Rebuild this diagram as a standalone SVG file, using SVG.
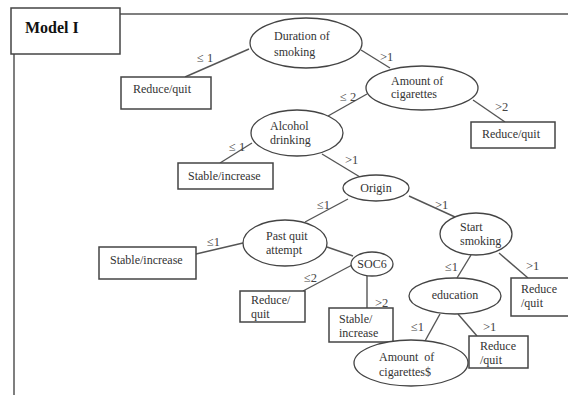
<svg xmlns="http://www.w3.org/2000/svg" width="568" height="395" viewBox="0 0 568 395">
<style>
.frame{fill:none;stroke:#555;stroke-width:1.5}
.box{fill:#fff;stroke:#444;stroke-width:1.5}
.ell{fill:#fff;stroke:#444;stroke-width:1.3}
.edge{stroke:#555;stroke-width:1.4;fill:none}
text{font-family:"Liberation Serif","Times New Roman",serif;font-size:12px;fill:#333}
.lbl{font-size:12.5px;fill:#444}
.mid{text-anchor:middle}
.title{font-size:16px;font-weight:bold;fill:#111}
</style>
<rect width="568" height="395" fill="#fff"/>
<g id="frame">
<path class="frame" d="M120 14 H570 M14 54 V396"/>
<rect class="box" x="11" y="8" width="109" height="46"/>
<text class="title" x="25" y="33">Model I</text>
</g>
<g id="connectors">
<line class="edge" x1="249" y1="49" x2="185" y2="77"/>
<line class="edge" x1="361" y1="50" x2="390" y2="68"/>
<line class="edge" x1="473" y1="100" x2="505" y2="122"/>
<line class="edge" x1="367" y1="94" x2="328" y2="116"/>
<line class="edge" x1="252" y1="143" x2="220" y2="163"/>
<line class="edge" x1="322" y1="154" x2="360" y2="177"/>
<line class="edge" x1="348" y1="199" x2="305" y2="222"/>
<line class="edge" x1="243" y1="243" x2="196" y2="254"/>
<line class="edge" x1="327" y1="247" x2="353" y2="256"/>
<line class="edge" x1="352" y1="265" x2="303" y2="291"/>
<line class="edge" x1="367" y1="276" x2="367" y2="308"/>
<line class="edge" x1="409" y1="196" x2="455" y2="217"/>
<line class="edge" x1="471" y1="255" x2="457" y2="278"/>
<line class="edge" x1="499" y1="253" x2="528" y2="278"/>
<line class="edge" x1="440" y1="314" x2="425" y2="341"/>
<line class="edge" x1="458" y1="314" x2="477" y2="336"/>
<text class="lbl" x="197" y="62">≤ 1</text>
<text class="lbl" x="380" y="61">&gt;1</text>
<text class="lbl" x="340" y="101">≤ 2</text>
<text class="lbl" x="495" y="111">&gt;2</text>
<text class="lbl" x="229" y="151">≤ 1</text>
<text class="lbl" x="345" y="164">&gt;1</text>
<text class="lbl" x="317" y="209">≤1</text>
<text class="lbl" x="207" y="246">≤1</text>
<text class="lbl" x="304" y="282">≤2</text>
<text class="lbl" x="375" y="307">&gt;2</text>
<text class="lbl" x="435" y="209">&gt;1</text>
<text class="lbl" x="445" y="271">≤1</text>
<text class="lbl" x="526" y="270">&gt;1</text>
<text class="lbl" x="411" y="331">≤1</text>
<text class="lbl" x="483" y="331">&gt;1</text>
</g>
<g id="duration">
<ellipse class="ell" cx="306" cy="43" rx="56" ry="25"/>
<text x="274" y="40">Duration of</text>
<text x="274" y="56">smoking</text>
</g>
<g id="reduce1">
<rect class="box" x="121" y="77" width="90" height="32"/>
<text x="133" y="93">Reduce/quit</text>
</g>
<g id="amount1">
<ellipse class="ell" cx="422" cy="88" rx="56" ry="22"/>
<text x="391" y="85">Amount of</text>
<text x="391" y="98">cigarettes</text>
</g>
<g id="reduce2">
<rect class="box" x="471" y="122" width="84" height="26"/>
<text x="482" y="138">Reduce/quit</text>
</g>
<g id="alcohol">
<ellipse class="ell" cx="297" cy="133" rx="46" ry="23"/>
<text x="270" y="130">Alcohol</text>
<text x="270" y="144">drinking</text>
</g>
<g id="stable1">
<rect class="box" x="178" y="163" width="95" height="26"/>
<text x="188" y="180">Stable/increase</text>
</g>
<g id="origin">
<ellipse class="ell" cx="376" cy="188" rx="33" ry="13"/>
<text class="mid" x="376" y="192">Origin</text>
</g>
<g id="pastquit">
<ellipse class="ell" cx="285" cy="243" rx="42" ry="23"/>
<text x="266" y="240">Past quit</text>
<text x="266" y="254">attempt</text>
</g>
<g id="stable2">
<rect class="box" x="99" y="247" width="97" height="32"/>
<text x="110" y="264">Stable/increase</text>
</g>
<g id="soc6">
<ellipse class="ell" cx="372" cy="264" rx="21" ry="12"/>
<text class="mid" x="372" y="268">SOC6</text>
</g>
<g id="reduce3">
<rect class="box" x="240" y="291" width="65" height="31"/>
<text x="251" y="304">Reduce/</text>
<text x="251" y="318">quit</text>
</g>
<g id="stable3">
<rect class="box" x="329" y="308" width="64" height="34"/>
<text x="339" y="323">Stable/</text>
<text x="339" y="337">increase</text>
</g>
<g id="startsmoking">
<ellipse class="ell" cx="476" cy="234" rx="36" ry="21"/>
<text x="460" y="231">Start</text>
<text x="460" y="245">smoking</text>
</g>
<g id="reduce4">
<rect class="box" x="511" y="278" width="60" height="38"/>
<text x="521" y="293">Reduce</text>
<text x="521" y="307">/quit</text>
</g>
<g id="education">
<ellipse class="ell" cx="455" cy="296" rx="46" ry="18"/>
<text class="mid" x="455" y="299">education</text>
</g>
<g id="reduce5">
<rect class="box" x="469" y="336" width="59" height="32"/>
<text x="480" y="350">Reduce</text>
<text x="480" y="364">/quit</text>
</g>
<g id="amount2">
<ellipse class="ell" cx="411" cy="363" rx="57" ry="23"/>
<text x="379" y="361" xml:space="preserve">Amount  of</text>
<text x="379" y="376">cigarettes$</text>
</g>
</svg>
